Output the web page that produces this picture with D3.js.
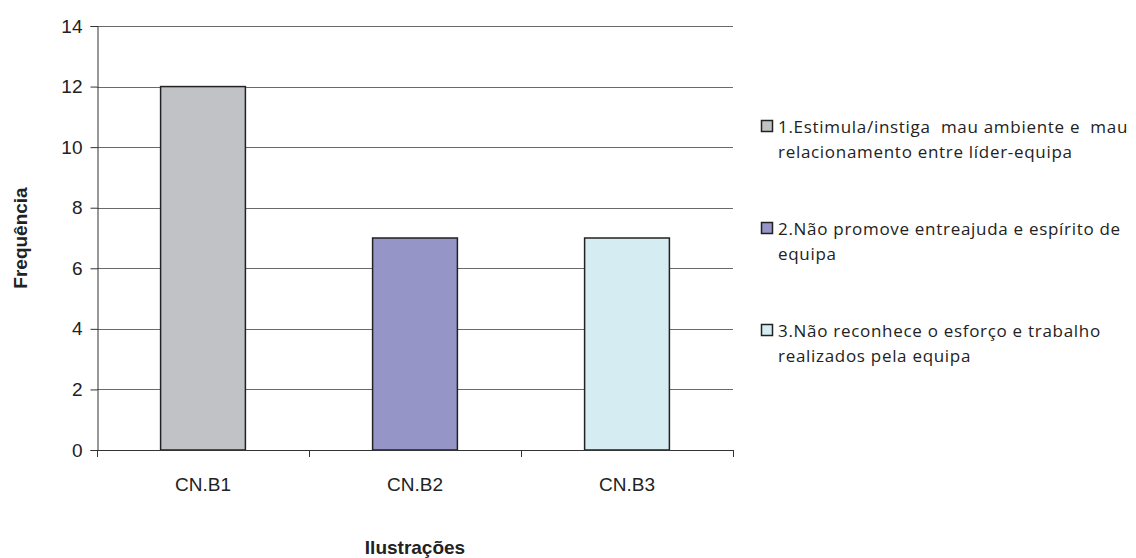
<!DOCTYPE html>
<html>
<head>
<meta charset="utf-8">
<script src="https://cdn.jsdelivr.net/npm/d3@7"></script>
<style>
  html, body { margin: 0; padding: 0; background: #fff; }
  svg { display: block; }
  .tick-label { font-family: "Liberation Sans Narrow", "Liberation Sans", Arial, sans-serif; font-size: 19px; fill: #222; }
  .axis-title { font-family: "Liberation Sans", Arial, sans-serif; font-size: 19px; font-weight: bold; fill: #222; }
  .legend-text { font-family: "Open Sans", "Noto Sans", sans-serif; font-size: 17px; fill: #222; letter-spacing: 0.7px; white-space: pre; }
</style>
</head>
<body>
<div id="chart"></div>
<script>
// Chart values
const categories = ["CN.B1", "CN.B2", "CN.B3"];
const values = [12, 7, 7];
const barColors = ["#c1c2c6", "#9595c8", "#d4ecf2"];
const yTicks = [0, 2, 4, 6, 8, 10, 12, 14];
const legendLines = [
    ["1.Estimula/instiga  mau ambiente e  mau", "relacionamento entre líder-equipa"],
    ["2.Não promove entreajuda e espírito de", "equipa"],
    ["3.Não reconhece o esforço e trabalho", "realizados pela equipa"]
];
const yTitle = "Frequência";
const xTitle = "Ilustrações";

function drawChart() {
    const width = 1136, height = 558;
    const plot = { left: 97, right: 733, top: 26, bottom: 450 };

    const svg = d3.select("#chart").append("svg")
        .attr("width", width)
        .attr("height", height);

    const x = d3.scaleBand()
        .domain(categories)
        .range([plot.left, plot.right])
        .paddingInner(0.6)
        .paddingOuter(0.3);

    const y = d3.scaleLinear()
        .domain([0, 14])
        .range([plot.bottom, plot.top]);

    // Gridlines
    svg.append("g")
        .selectAll("line")
        .data(yTicks.filter(d => d > 0))
        .enter()
        .append("line")
        .attr("x1", plot.left)
        .attr("x2", plot.right)
        .attr("y1", d => Math.round(y(d)) + 0.5)
        .attr("y2", d => Math.round(y(d)) + 0.5)
        .attr("stroke", "#6a6a6a")
        .attr("stroke-width", 1);

    // Bars
    svg.append("g")
        .selectAll("rect")
        .data(categories)
        .enter()
        .append("rect")
        .attr("x", d => x(d))
        .attr("y", (d, i) => y(values[i]))
        .attr("width", x.bandwidth())
        .attr("height", (d, i) => y(0) - y(values[i]))
        .attr("fill", (d, i) => barColors[i])
        .attr("stroke", "#222")
        .attr("stroke-width", 1.5);

    // Y axis
    const yAxis = svg.append("g")
        .attr("transform", `translate(${plot.left + 0.5},0)`)
        .call(d3.axisLeft(y).tickValues(yTicks).tickSize(7).tickPadding(8));
    yAxis.select(".domain").attr("stroke", "#333");
    yAxis.selectAll(".tick line").attr("stroke", "#333");
    yAxis.selectAll(".tick text").attr("class", "tick-label");
    yAxis.attr("font-size", null).attr("font-family", null);

    // X axis: line with ticks at category boundaries
    const xAxis = svg.append("g");
    xAxis.append("line")
        .attr("x1", plot.left)
        .attr("x2", plot.right)
        .attr("y1", Math.round(y(0)) + 0.5)
        .attr("y2", Math.round(y(0)) + 0.5)
        .attr("stroke", "#333");

    const boundaries = categories.map(c => x(c) - x.step() * x.paddingInner() / 2)
        .concat([plot.right]);
    xAxis.selectAll("line.tick")
        .data(boundaries)
        .enter()
        .append("line")
        .attr("class", "tick")
        .attr("x1", d => Math.round(d) + 0.5)
        .attr("x2", d => Math.round(d) + 0.5)
        .attr("y1", y(0))
        .attr("y2", y(0) + 7)
        .attr("stroke", "#333");

    xAxis.selectAll("text")
        .data(categories)
        .enter()
        .append("text")
        .attr("class", "tick-label")
        .attr("x", d => x(d) + x.bandwidth() / 2)
        .attr("y", 491)
        .attr("text-anchor", "middle")
        .text(d => d);

    // Axis titles
    svg.append("text")
        .attr("class", "axis-title")
        .attr("transform", `translate(27,${(plot.top + plot.bottom) / 2}) rotate(-90)`)
        .attr("text-anchor", "middle")
        .text(yTitle);

    svg.append("text")
        .attr("class", "axis-title")
        .attr("x", (plot.left + plot.right) / 2)
        .attr("y", 554)
        .attr("text-anchor", "middle")
        .text(xTitle);

    // Legend
    const legend = svg.append("g").attr("transform", "translate(761,0)");
    legendLines.forEach((lines, i) => {
        const cy = 127 + i * 102;
        const row = legend.append("g").attr("transform", `translate(0,${cy})`);
        row.append("rect")
            .attr("x", 0.5)
            .attr("y", -6.5)
            .attr("width", 11)
            .attr("height", 11)
            .attr("fill", barColors[i])
            .attr("stroke", "#222")
            .attr("stroke-width", 1.5);
        lines.forEach((t, j) => {
            row.append("text")
                .attr("class", "legend-text")
                .attr("x", 17)
                .attr("y", 6 + j * 25)
                .text(t);
        });
    });
}

drawChart();
</script>
</body>
</html>
